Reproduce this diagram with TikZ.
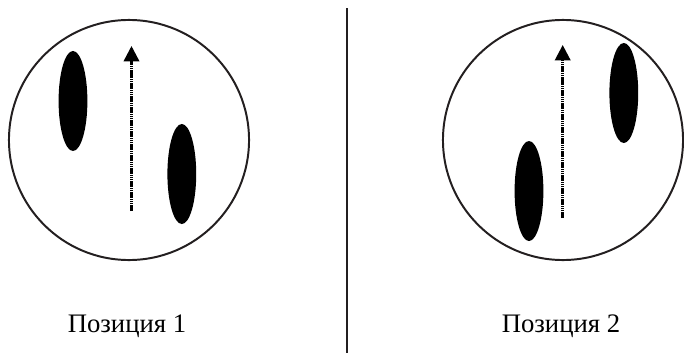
\documentclass[tikz,border=0pt]{standalone}
\usepackage{fontspec}
\setmainfont{Liberation Serif}
\usepackage{tikz}
\usetikzlibrary{shapes.geometric, arrows.meta, positioning}
\definecolor{rim}{RGB}{35,31,32}

\begin{document}
\begin{tikzpicture}[
  x=0.025cm, y=-0.025cm,
  field/.style={circle, draw=rim, line width=1.4pt, minimum size=6cm, inner sep=0pt},
  blob/.style={ellipse, fill=black, minimum width=0.72cm, minimum height=2.5cm, inner sep=0pt},
  move/.style={-{Triangle[width=11pt, length=11pt]}, line width=1.8pt, dash pattern=on 1.1pt off 0.45pt},
  caption/.style={font=\fontsize{19}{22}\selectfont, inner sep=0pt},
]
\useasboundingbox (0,0) rectangle (684,355);

% Position 1
\node[field] (pos1) at (129,140) {};
\node[blob] at ([xshift=-1.4cm, yshift=0.975cm]pos1.center) (blob1a) {};
\node[blob] at ([xshift=1.32cm, yshift=-0.85cm]pos1.center) (blob1b) {};
\coordinate (move1s) at (131.5,211);
\coordinate (move1e) at (131.5,46);
\draw[move] (move1s) -- (move1e);
\node[caption] at (127,326) (cap1) {Позиция 1};

% Divider
\coordinate (divtop) at (347,8);
\coordinate (divbot) at (347,353);
\draw[rim, line width=1.4pt] (divtop) -- (divbot);

% Position 2
\node[field] (pos2) at (563,140) {};
\node[blob] at ([xshift=1.52cm, yshift=1.175cm]pos2.center) (blob2a) {};
\node[blob] at ([xshift=-0.85cm, yshift=-1.275cm]pos2.center) (blob2b) {};
\coordinate (move2s) at (562.7,218);
\coordinate (move2e) at (562.7,45);
\draw[move] (move2s) -- (move2e);
\node[caption] at (561,326) (cap2) {Позиция 2};

\end{tikzpicture}
\end{document}
